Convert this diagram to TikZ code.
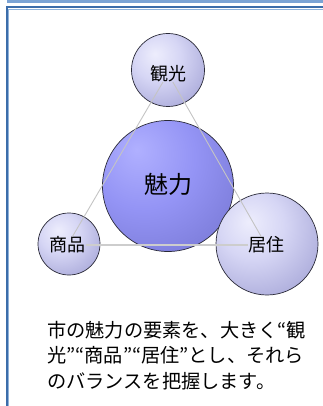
\documentclass[tikz,border=0pt]{standalone}
\usepackage{fontspec}
\setmainfont{Noto Sans CJK JP}
\definecolor{barblue}{HTML}{7BA3D4}
\definecolor{framedark}{HTML}{3C6DAA}
\definecolor{framelight}{HTML}{8FB2DA}
\definecolor{outline}{HTML}{2A2A38}
\definecolor{triline}{HTML}{C4C4C4}
\pgfdeclareradialshading{pale}{\pgfpoint{-9bp}{11bp}}{rgb(0bp)=(0.93,0.93,0.99); rgb(16bp)=(0.84,0.84,0.96); rgb(38bp)=(0.66,0.66,0.85); rgb(62bp)=(0.47,0.47,0.64); rgb(100bp)=(0.47,0.47,0.64)}
\pgfdeclareradialshading{deep}{\pgfpoint{-12bp}{14bp}}{rgb(0bp)=(0.69,0.69,1.0); rgb(20bp)=(0.58,0.58,0.96); rgb(45bp)=(0.46,0.46,0.82); rgb(66bp)=(0.35,0.35,0.64); rgb(100bp)=(0.35,0.35,0.64)}
\begin{document}
\begin{tikzpicture}[x=1pt,y=-1pt,
  ball/.style={circle, draw=outline, line width=0.7pt, shading=#1, inner sep=0pt},
  lbl/.style={inner sep=0pt, text=black, font=\fontsize{18}{18}\selectfont},
  body/.style={inner sep=0pt, anchor=base west, text=black, font=\fontsize{19.2}{20}\selectfont},
  tri/.style={draw=triline, line width=0.9pt}]
\useasboundingbox (0,0) rectangle (323,406);
\fill[barblue] (7,0) rectangle (323,2.6);
\draw[framedark, line width=1.8pt] (6.6,406) -- (6.6,7.4) -- (323,7.4);
\draw[framelight, line width=0.9pt] (8.4,406) -- (8.4,9.2) -- (323,9.2);
% spheres
\node[ball=pale, minimum size=73pt] (ckanko) at (168,70) {};
\node[ball=deep, minimum size=131pt] (cmiryoku) at (168,186) {};
\node[ball=pale, minimum size=62pt] (cshohin) at (69,244) {};
\node[ball=pale, minimum size=102pt] (ckyoju) at (267,244) {};
% labels
\node[lbl] (tkanko) at (168,73.5) {観光};
\node[lbl, font=\fontsize{24}{24}\selectfont] (tmiryoku) at (168,184) {魅力};
\node[lbl] (tshohin) at (67.5,245) {商品};
\node[lbl] (tkyoju) at (266,245) {居住};
% triangle
\draw[tri] (tkanko) -- (tshohin);
\draw[tri] (tkanko) -- (tkyoju);
\draw[tri, draw=triline!85, line width=1.8pt] (tshohin) -- (tkyoju);
% body text
\node[body] (line1) at (47,337) {市の魅力の要素を、大きく“観};
\node[body] (line2) at (47,362.5) {光”“商品”“居住”とし、それら};
\node[body] (line3) at (47,388) {のバランスを把握します。};
\end{tikzpicture}
\end{document}
